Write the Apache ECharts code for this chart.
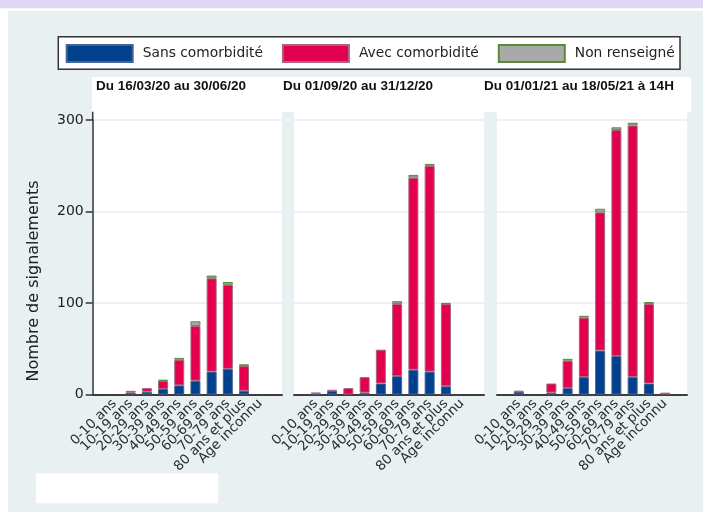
<!DOCTYPE html>
<html>
<head>
<meta charset="utf-8">
<script src="https://cdn.jsdelivr.net/npm/echarts@6/dist/echarts.min.js"></script>
<style>
  html, body { margin: 0; padding: 0; background: #fff; }
  #chart { width: 703px; height: 512px; }
</style>
</head>
<body>
<div id="chart"></div>
<script>
// Age groups (x categories, same for each period)
const categories = ['0-10 ans', '10-19 ans', '20-29 ans', '30-39 ans', '40-49 ans',
  '50-59 ans', '60-69 ans', '70-79 ans', '80 ans et plus', 'Age inconnu'];

// Period titles
const periods = ['Du 16/03/20 au 30/06/20', 'Du 01/09/20 au 31/12/20', 'Du 01/01/21 au 18/05/21 à 14H'];

// Series names
const seriesNames = ['Sans comorbidité', 'Avec comorbidité', 'Non renseigné'];

// Period 1
const p1Sans = [0, 2, 3, 6, 10, 15, 25, 28, 4, 0];
const p1Avec = [0, 2, 4, 9, 28, 60, 102, 92, 27, 0];
const p1NonRens = [0, 0, 0, 1, 2, 5, 3, 3, 2, 0];

// Period 2
const p2Sans = [1, 4, 0, 2, 12, 20, 27, 25, 9, 0];
const p2Avec = [1, 1, 7, 17, 37, 79, 210, 225, 90, 0];
const p2NonRens = [0, 0, 0, 0, 0, 3, 3, 2, 1, 0];

// Period 3
const p3Sans = [3, 0, 2, 7, 19, 48, 42, 19, 12, 0];
const p3Avec = [1, 0, 10, 30, 65, 151, 247, 275, 87, 2];
const p3NonRens = [0, 0, 0, 2, 2, 4, 3, 3, 2, 0];

// Y axis ticks
const yTicks = { min: 0, max: 300, interval: 100 };

const periodData = [
  [p1Sans, p1Avec, p1NonRens],
  [p2Sans, p2Avec, p2NonRens],
  [p3Sans, p3Avec, p3NonRens]
];

// empty segments are skipped so their outline is not drawn
const segment = v => (v === 0 ? '-' : v);

// layout of the three panels
const panelLeft = [92.7, 294, 497];
const panelWidth = [189.3, 190, 190];
const barInset = 13.7;
const plotTop = 120;
const plotHeight = 274.5;
const titleLeft = [96, 283, 484];

const styles = [
  { color: '#00408d', borderColor: '#45648f', borderWidth: 1 },
  { color: '#e2004f', borderColor: '#a9637e', borderWidth: 1 },
  { color: '#a9a9a9', borderColor: '#5c8a3a', borderWidth: 1 }
];

const FONT = 'DejaVu Sans';

const grid = [], xAxis = [], yAxis = [], series = [], title = [];

// background grids: white panels, split lines, axis lines
for (let i = 0; i < 3; i++) {
  grid.push({
    left: panelLeft[i], width: panelWidth[i], top: plotTop, height: plotHeight,
    show: true, backgroundColor: '#ffffff', borderWidth: 0
  });
  xAxis.push({
    type: 'value', gridIndex: i, min: 0, max: 1,
    axisLine: { show: true, lineStyle: { color: '#3d3d3d', width: 2 } },
    axisTick: { show: false }, axisLabel: { show: false }, splitLine: { show: false }
  });
  yAxis.push({
    type: 'value', gridIndex: i, min: yTicks.min, max: yTicks.max, interval: yTicks.interval,
    axisLine: { show: i === 0, lineStyle: { color: '#333', width: 1.5 } },
    axisTick: { show: i === 0, length: 7, lineStyle: { color: '#333', width: 1.5 } },
    axisLabel: { show: i === 0, margin: 9, fontFamily: FONT, fontSize: 14, color: '#222' },
    splitLine: { show: true, lineStyle: { color: '#e4edf2', width: 1.5 } }
  });
}

// bar grids
for (let i = 0; i < 3; i++) {
  grid.push({
    left: panelLeft[i] + barInset, width: panelWidth[i] - 2 * barInset,
    top: plotTop, height: plotHeight, show: false
  });
  xAxis.push({
    type: 'category', gridIndex: 3 + i, data: categories,
    axisLine: { show: false }, axisTick: { show: false },
    axisLabel: { interval: 0, rotate: 45, margin: 7, fontFamily: FONT, fontSize: 13.5, color: '#2e2e2e' }
  });
  yAxis.push({
    type: 'value', gridIndex: 3 + i, min: yTicks.min, max: yTicks.max, show: false,
    splitLine: { show: false }
  });
  for (let s = 0; s < 3; s++) {
    series.push({
      name: seriesNames[s], type: 'bar', stack: 'p' + i,
      xAxisIndex: 3 + i, yAxisIndex: 3 + i,
      barWidth: 10, data: periodData[i][s].map(segment),
      itemStyle: styles[s]
    });
  }
  title.push({
    text: periods[i], left: titleLeft[i], top: 79, padding: 0,
    textStyle: { fontFamily: 'Liberation Sans', fontWeight: 'bold', fontSize: 13.5, color: '#111' }
  });
}

const chart = echarts.init(document.getElementById('chart'), null, { renderer: 'canvas' });
chart.setOption({
  backgroundColor: '#ffffff',
  animation: false,
  title: title,
  legend: {
    data: seriesNames, left: 65.7, top: 44, padding: 0,
    icon: 'rect', itemWidth: 66, itemHeight: 17, itemGap: 19,
    textStyle: { fontFamily: FONT, fontSize: 13.8, color: '#222', padding: [0, 0, 0, 5] }
  },
  graphic: [
    { type: 'rect', z: -20, silent: true, shape: { x: 0, y: 0, width: 703, height: 8.3 }, style: { fill: '#dfd7f3' } },
    { type: 'rect', z: -20, silent: true, shape: { x: 8, y: 11, width: 695, height: 501 }, style: { fill: '#e8f0f2' } },
    { type: 'rect', z: -10, silent: true, shape: { x: 58.3, y: 36.7, width: 621.7, height: 32.6 }, style: { fill: '#ffffff', stroke: '#333', lineWidth: 1.5 } },
    { type: 'rect', z: -10, silent: true, shape: { x: 92, y: 77, width: 599, height: 35 }, style: { fill: '#ffffff' } },
    { type: 'rect', z: -10, silent: true, shape: { x: panelLeft[0], y: 112, width: panelWidth[0], height: 8.5 }, style: { fill: '#ffffff' } },
    { type: 'rect', z: -10, silent: true, shape: { x: panelLeft[1], y: 112, width: panelWidth[1], height: 8.5 }, style: { fill: '#ffffff' } },
    { type: 'rect', z: -10, silent: true, shape: { x: panelLeft[2], y: 112, width: panelWidth[2], height: 8.5 }, style: { fill: '#ffffff' } },
    { type: 'line', z: 5, silent: true, shape: { x1: panelLeft[0], y1: 111.7, x2: panelLeft[0], y2: 120.5 }, style: { stroke: '#333', lineWidth: 1.5 } },
    { type: 'rect', z: -10, silent: true, shape: { x: 36, y: 473.3, width: 182.3, height: 30 }, style: { fill: '#ffffff' } },
    {
      type: 'text', z: 5, silent: true, x: 34, y: 281, rotation: Math.PI / 2,
      style: { text: 'Nombre de signalements', fontFamily: FONT, fontSize: 16, fill: '#222', align: 'center', verticalAlign: 'middle' }
    }
  ],
  grid: grid,
  xAxis: xAxis,
  yAxis: yAxis,
  series: series
});
</script>
</body>
</html>
